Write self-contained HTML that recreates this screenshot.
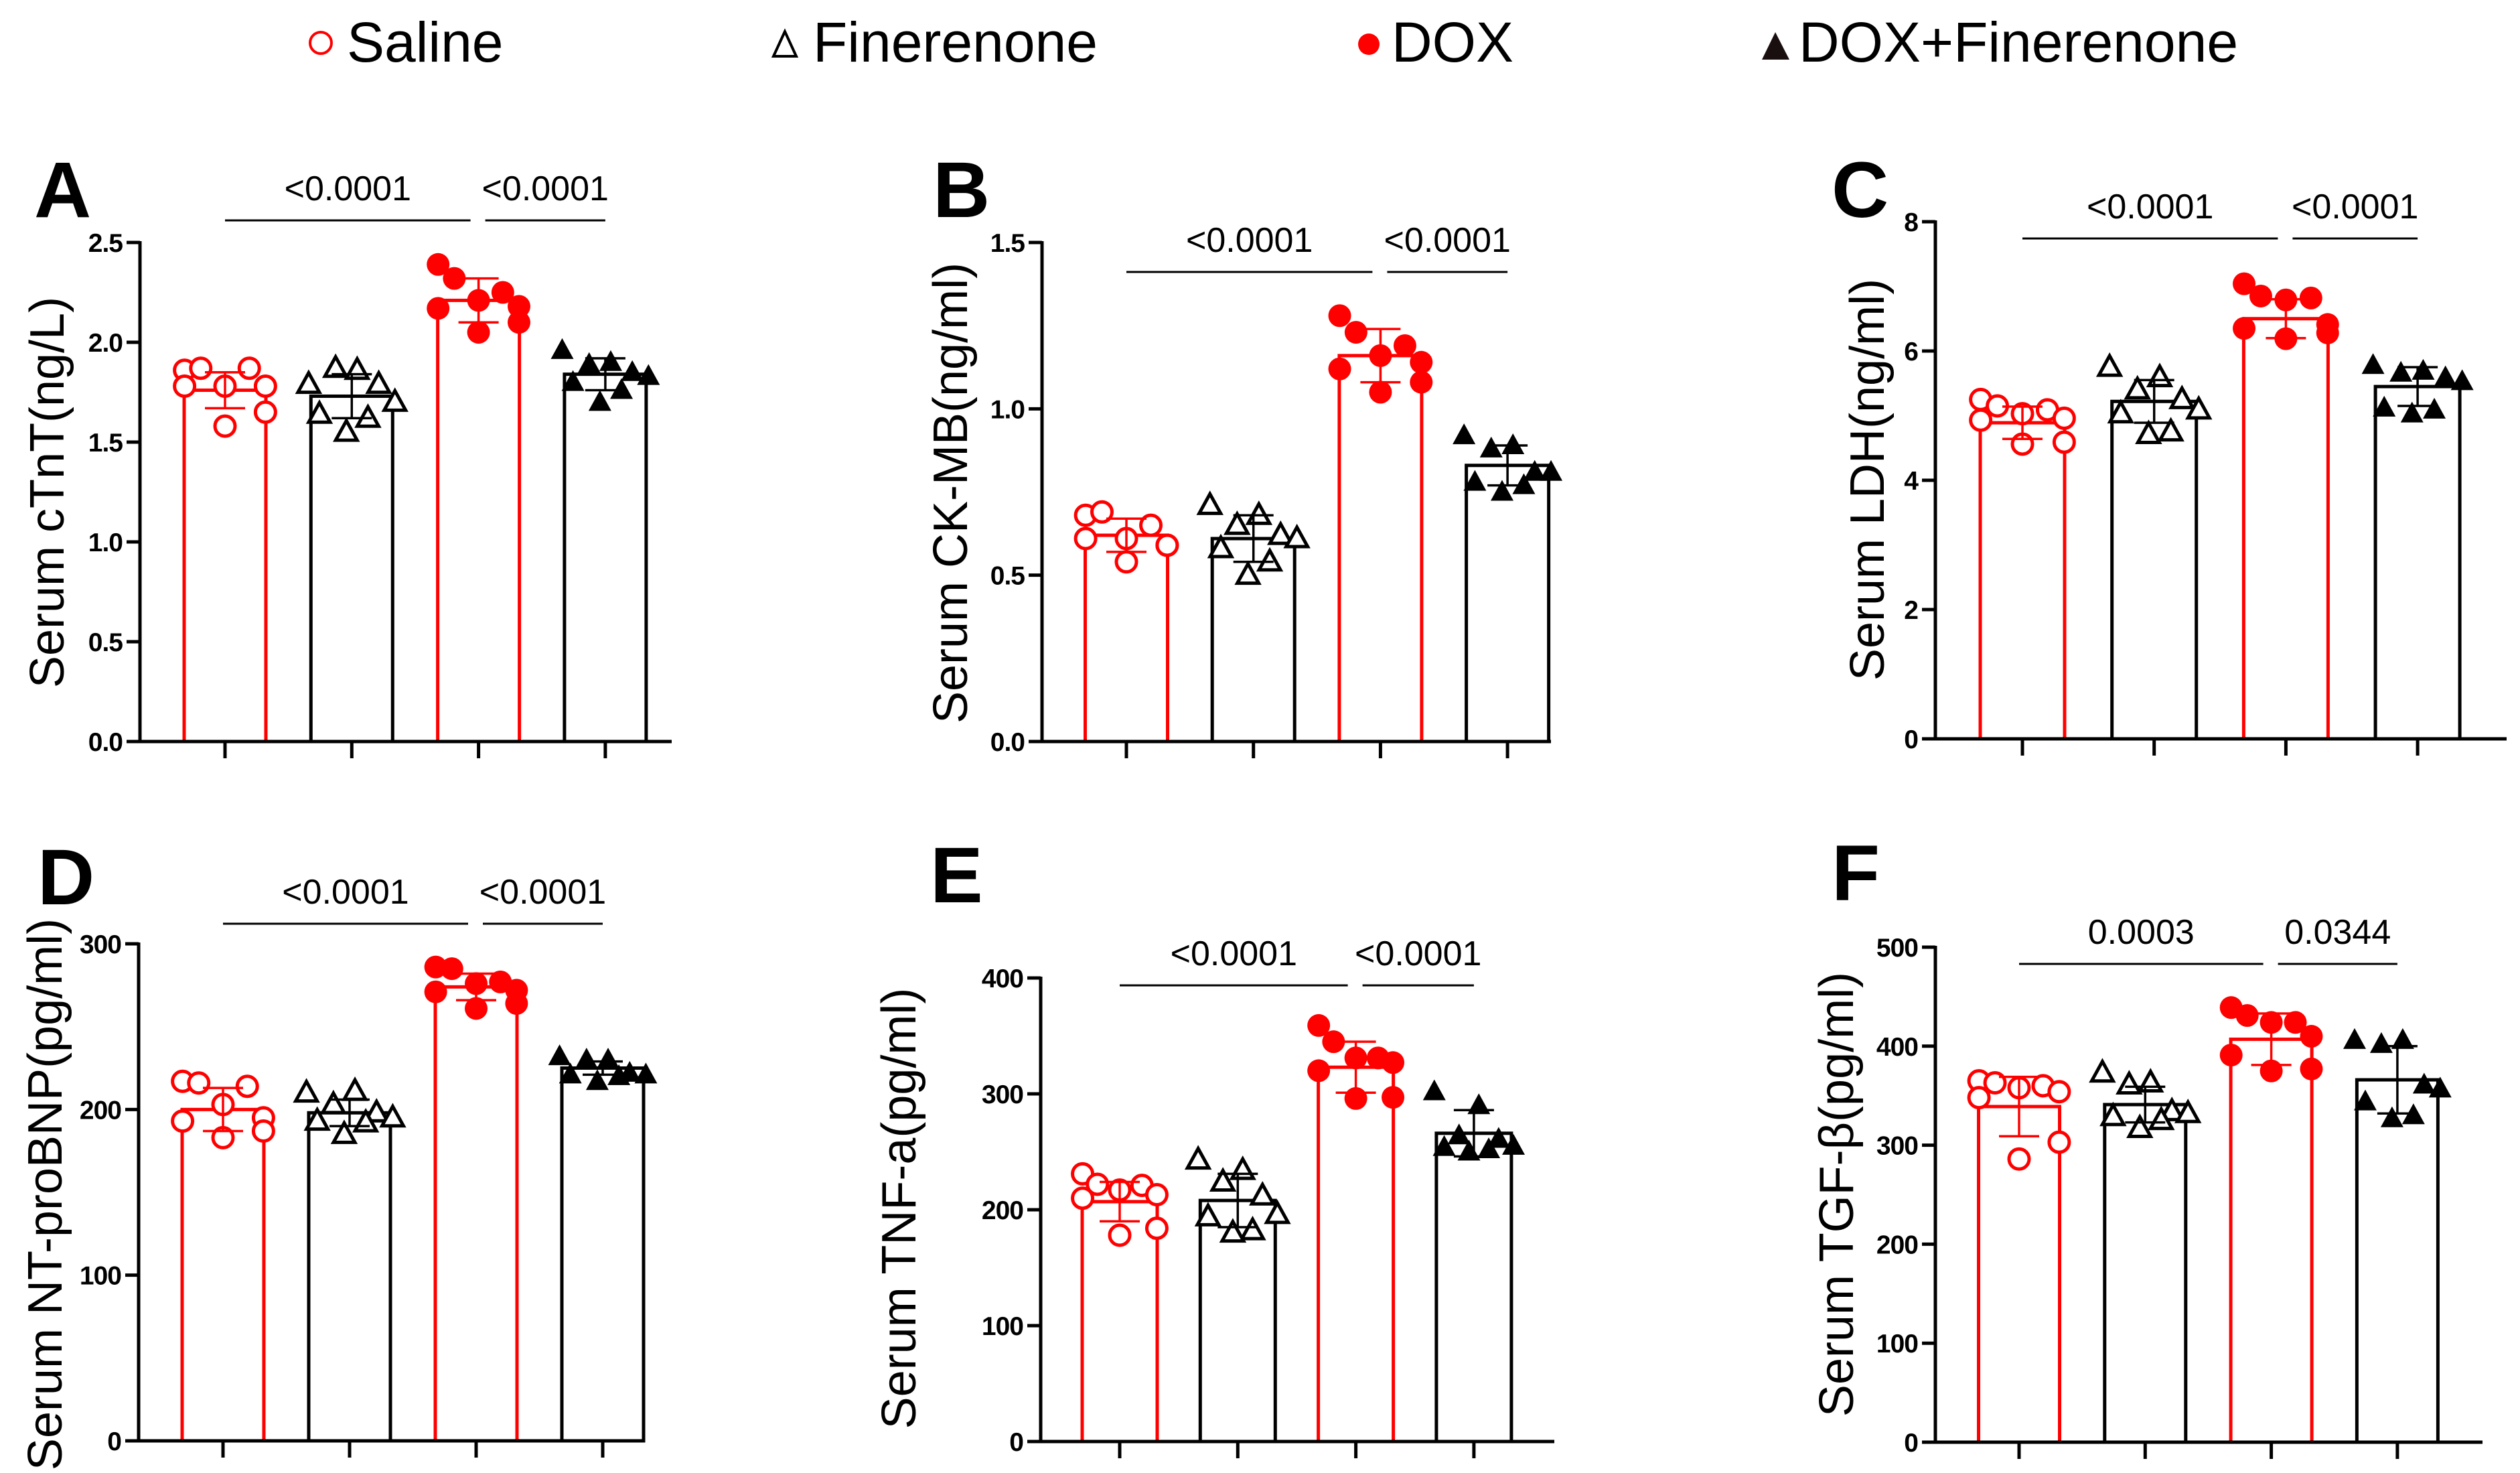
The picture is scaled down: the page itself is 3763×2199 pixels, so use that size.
<!DOCTYPE html>
<html><head><meta charset="utf-8"><style>
html,body{margin:0;padding:0;background:#fff;}
svg{display:block;font-family:"Liberation Sans",Arial,sans-serif;}
</style></head><body>
<svg id="fig" width="3763" height="2199" viewBox="0 0 3763 2199" xmlns="http://www.w3.org/2000/svg">
<g>
  <g>
    <circle cx="479" cy="64" r="16" fill="#fff" stroke="#f00" stroke-width="4"/>
    <text x="518" y="92" font-size="84">Saline</text>
  </g>
  <g>
    <polygon points="1172,47 1155,84 1189,84" fill="#fff" stroke="#000" stroke-width="4"/>
    <text x="1214" y="92" font-size="84">Finerenone</text>
  </g>
  <g>
    <circle cx="2044" cy="66" r="16" fill="#f00"/>
    <text x="2078" y="92" font-size="84">DOX</text>
  </g>
  <g>
    <polygon points="2651,48 2631,89 2672,89" fill="#1a0f0f"/>
    <text x="2686" y="92" font-size="84">DOX+Finerenone</text>
  </g>
</g>
</svg>
<script>
// ---- data ----
const groups = ['Saline','Finerenone','DOX','DOX+Finerenone'];
const aMeans = [1.76,1.73,2.21,1.84];
const aSD = [0.09,0.11,0.11,0.08];
const aPts = [[1.86,1.87,1.87,1.78,1.78,1.78,1.65,1.58],[1.79,1.86,1.87,1.79,1.70,1.64,1.62,1.55],[2.39,2.32,2.25,2.21,2.18,2.17,2.10,2.05],[1.96,1.90,1.89,1.85,1.83,1.80,1.76,1.70]];
const aTicks = ['0.0','0.5','1.0','1.5','2.0','2.5'];
const bMeans = [0.62,0.61,1.16,0.83];
const bSD = [0.05,0.07,0.08,0.06];
const bPts = [[0.68,0.69,0.65,0.61,0.59,0.61,0.59,0.54],[0.71,0.68,0.65,0.62,0.61,0.58,0.54,0.50],[1.28,1.23,1.19,1.16,1.14,1.12,1.08,1.05],[0.92,0.89,0.88,0.81,0.81,0.78,0.77,0.75]];
const bTicks = ['0.0','0.5','1.0','1.5'];
const cMeans = [4.89,5.22,6.5,5.45];
const cSD = [0.25,0.33,0.3,0.3];
const cPts = [[5.25,5.15,5.09,5.03,4.96,4.93,4.59,4.56],[5.75,5.59,5.40,5.25,5.09,5.03,4.75,4.71],[7.04,6.85,6.82,6.79,6.41,6.35,6.28,6.19],[5.78,5.69,5.66,5.59,5.53,5.12,5.09,5.03]];
const cTicks = ['0','2','4','6','8'];
const dMeans = [200,198,274,225];
const dSD = [13,8,8,4];
const dPts = [[217,216,214,203,195,193,187,183],[210,211,203,198,195,193,192,185],[286,285,277,276,272,271,264,261],[232,230,230,222,221,221,220,217]];
const dTicks = ['0','100','200','300'];
const eMeans = [207,208,323,266];
const eSD = [17,23,22,20];
const ePts = [[231,222,221,217,213,210,184,178],[243,234,224,212,196,194,182,180],[359,345,331,331,327,320,297,296],[302,290,264,261,255,254,252,250]];
const eTicks = ['0','100','200','300','400'];
const fMeans = [339,341,407,366];
const fSD = [30,18,26,34];
const fPts = [[365,363,360,358,354,348,303,286],[373,363,361,334,332,329,325,317],[439,431,424,424,410,391,377,375],[406,406,402,361,357,344,330,327]];
const fTicks = ['0','100','200','300','400','500'];
const pLabels = ['<0.0001','<0.0001','<0.0001','<0.0001','<0.0001','<0.0001','<0.0001','<0.0001','<0.0001','<0.0001','0.0003','0.0344'];

// ---- layout ----
const panels = [
 {id:'a',letter:'A',title:'Serum cTnT(ng/L)',means:aMeans,sd:aSD,pts:aPts,ticks:aTicks,max:2.5,ax:209,top:362,y0:1107,xend:1003,t0:336,dt:189.3,bw:122,sigY:329,lx:51,ly:324,tx:70,ty:735,p:[pLabels[0],pLabels[1]]},
 {id:'b',letter:'B',title:'Serum CK-MB(ng/ml)',means:bMeans,sd:bSD,pts:bPts,ticks:bTicks,max:1.5,ax:1556,top:362,y0:1107,xend:2316,t0:1682,dt:189.7,bw:123,sigY:406,lx:1393,ly:324,tx:1419,ty:736,p:[pLabels[2],pLabels[3]]},
 {id:'c',letter:'C',title:'Serum LDH(ng/ml)',means:cMeans,sd:cSD,pts:cPts,ticks:cTicks,max:8,ax:2890,top:331,y0:1103,xend:3743,t0:3020,dt:196.7,bw:126,sigY:356,lx:2735,ly:324,tx:2788,ty:716,p:[pLabels[4],pLabels[5]]},
 {id:'d',letter:'D',title:'Serum NT-proBNP(pg/ml)',means:dMeans,sd:dSD,pts:dPts,ticks:dTicks,max:300,ax:207,top:1409,y0:2151,xend:960,t0:333,dt:189,bw:122,sigY:1379,lx:56,ly:1350,tx:67,ty:1783,p:[pLabels[6],pLabels[7]]},
 {id:'e',letter:'E',title:'Serum TNF-a(pg/ml)',means:eMeans,sd:eSD,pts:ePts,ticks:eTicks,max:400,ax:1554,top:1460,y0:2152,xend:2321,t0:1672,dt:176.3,bw:112,sigY:1471,lx:1389,ly:1347,tx:1342,ty:1804,p:[pLabels[8],pLabels[9]]},
 {id:'f',letter:'F',title:'Serum TGF-β(pg/ml)',means:fMeans,sd:fSD,pts:fPts,ticks:fTicks,max:500,ax:2890,top:1414,y0:2153,xend:3707,t0:3015,dt:188.3,bw:121,sigY:1439,lx:2735,ly:1344,tx:2742,ty:1783,p:[pLabels[10],pLabels[11]]}
];
const NS='http://www.w3.org/2000/svg';
const svg=document.getElementById('fig');
const jit=[-0.75,-0.45,0.45,0,0.75,-0.75,0.75,0];
const jit2=[-0.8,0.1,-0.3,0.5,0.8,-0.6,0.3,-0.1];
function mk(tag,attrs,parent){const e=document.createElementNS(NS,tag);for(const k in attrs)e.setAttribute(k,attrs[k]);parent.appendChild(e);return e;}
panels.forEach(P=>{
  const g=mk('g',{},svg);
  
  
  const y=v=>P.y0-(v/P.max)*(P.y0-P.top);
  const x=i=>P.t0+i*P.dt;
  const lab=mk('text',{x:P.lx,y:P.ly,'font-size':118,'font-weight':'bold'},g);
  lab.textContent=P.letter;
  
  
  const tt=mk('text',{x:0,y:0,'font-size':72,'text-anchor':'middle',transform:`translate(${P.tx+25},${P.ty}) rotate(-90)`},g);
  tt.textContent=P.title;
  
  
  // bars
  P.means.forEach((m,i)=>{
    const red=(i%2===0);
    const b=mk('rect',{x:x(i)-P.bw/2,y:y(m),width:P.bw,height:P.y0-y(m),fill:'none',stroke:red?'#f00':'#000','stroke-width':5},g);
    
    
  });
  // points
  P.pts.forEach((arr,i)=>{
    arr.forEach((v,k)=>{
      const px=x(i)+(i%2?jit2[k]:jit[k])*P.bw*0.66, py=y(v);
      let m;
      if(i===0) m=mk('circle',{cx:px,cy:py,r:15,fill:'#fff',stroke:'#f00','stroke-width':5},g);
      else if(i===2) m=mk('circle',{cx:px,cy:py,r:17,fill:'#f00'},g);
      else if(i===1) m=mk('polygon',{points:`${px},${py-17} ${px-16},${py+12} ${px+16},${py+12}`,fill:'#fff',stroke:'#000','stroke-width':5},g);
      else m=mk('polygon',{points:`${px},${py-18} ${px-17},${py+13} ${px+17},${py+13}`,fill:'#000'},g);
      
      
    });
  });
  // error bars
  P.means.forEach((m,i)=>{
    const col=(i%2===0)?'#f00':'#000';
    const eg=mk('g',{stroke:col,'stroke-width':3.5},g);
    
    
    const hi=y(m+P.sd[i]),lo=y(m-P.sd[i]);
    mk('line',{x1:x(i),x2:x(i),y1:hi,y2:lo},eg);
    mk('line',{x1:x(i)-30,x2:x(i)+30,y1:hi,y2:hi},eg);
    mk('line',{x1:x(i)-30,x2:x(i)+30,y1:lo,y2:lo},eg);
  });
  // axes
  const ya=mk('line',{x1:P.ax,x2:P.ax,y1:P.top-2,y2:P.y0+2,stroke:'#000','stroke-width':5},g);
  
  
  const xa=mk('line',{x1:P.ax-20,x2:P.xend,y1:P.y0,y2:P.y0,stroke:'#000','stroke-width':5},g);
  
  
  P.ticks.forEach(t=>{
    const v=parseFloat(t), ty=y(v);
    mk('line',{x1:P.ax-20,x2:P.ax,y1:ty,y2:ty,stroke:'#000','stroke-width':5},g);
    const tl=mk('text',{x:P.ax-26,y:ty+14,'font-size':39,'font-weight':'bold','text-anchor':'end','letter-spacing':'-1'},g);
    tl.textContent=t;
    
    
  });
  groups.forEach((gname,i)=>{
    const tk=mk('line',{x1:x(i),x2:x(i),y1:P.y0,y2:P.y0+25,stroke:'#000','stroke-width':5},g);
    
    
  });
  // significance
  const pairs=[[0,2],[2,3]];
  pairs.forEach((pr,j)=>{
    const sg=mk('g',{},g);
    
    
    const x1=x(pr[0])+(j===1?10:0), x2=x(pr[1])-(j===0?12:0);
    mk('line',{x1:x1,x2:x2,y1:P.sigY,y2:P.sigY,stroke:'#000','stroke-width':3},sg);
    const st=mk('text',{x:(x1+x2)/2,y:P.sigY-30,'font-size':52,'text-anchor':'middle'},sg);
    st.textContent=P.p[j];
  });
});
</script>
</body></html>
